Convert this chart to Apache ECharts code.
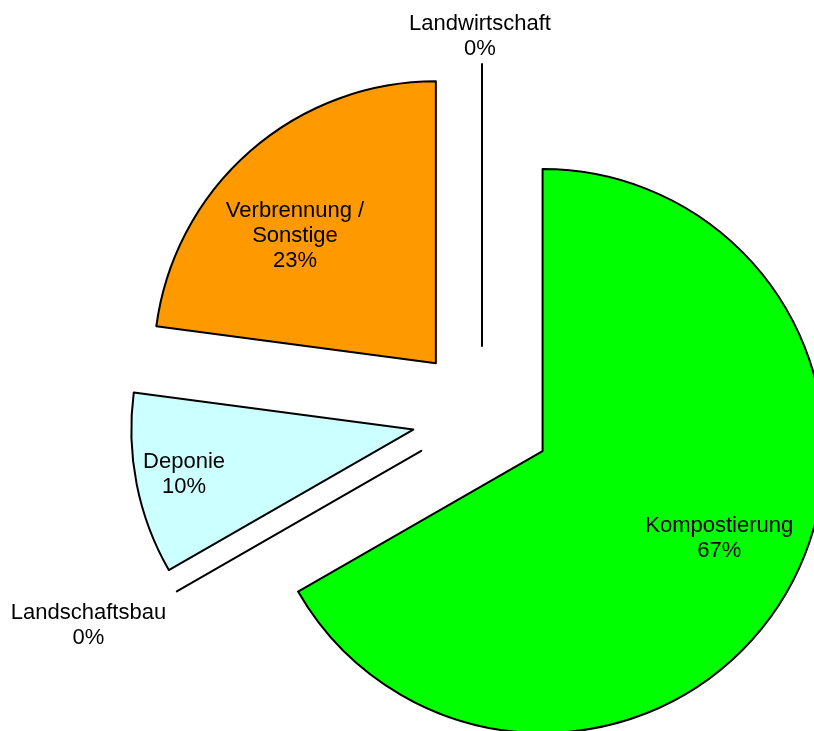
<!DOCTYPE html>
<html>
<head>
<meta charset="utf-8">
<script src="https://cdn.jsdelivr.net/npm/echarts@6/dist/echarts.min.js"></script>
<style>
  html, body { margin: 0; padding: 0; background: #fff; }
  #chart { width: 814px; height: 731px; }
</style>
</head>
<body>
<div id="chart"></div>
<script>
// slices, clockwise from 12 o'clock (percent shares)
const names = ['Kompostierung', 'Landschaftsbau', 'Deponie', 'Verbrennung /\nSonstige', 'Landwirtschaft'];
const values = [66.7, 0, 10.4, 22.9, 0];
const colors = ['#00FF00', '#000000', '#CCFFFF', '#FF9900', '#000000'];
// label nudges away from the default inside spot
const labelShift = [[52, 15], [-208, 103], [-88, 17], [-46, -19], [-2, -166]];

const pieData = names.map((n, i) => ({
  name: n,
  value: values[i],
  selected: true,
  itemStyle: { color: colors[i] }
}));

const chart = echarts.init(document.getElementById('chart'));
chart.setOption({
  animation: false,
  series: [{
    type: 'pie',
    center: [482, 416],
    radius: 282,
    startAngle: 90,
    clockwise: true,
    selectedMode: 'multiple',
    selectedOffset: 70,
    avoidLabelOverlap: false,
    minAngle: 0,
    itemStyle: { borderColor: '#000', borderWidth: 2 },
    label: {
      show: true,
      position: 'inside',
      formatter: p => p.name + '\n' + Math.round(p.value) + '%',
      fontFamily: '"Liberation Sans", Arial, sans-serif',
      fontSize: 22,
      lineHeight: 25,
      color: '#000',
      align: 'center'
    },
    labelLine: { show: false },
    labelLayout: function (params) {
      const s = labelShift[params.dataIndex];
      return { dx: s[0], dy: s[1] };
    },
    emphasis: { disabled: true },
    data: pieData
  }]
});
</script>
</body>
</html>
